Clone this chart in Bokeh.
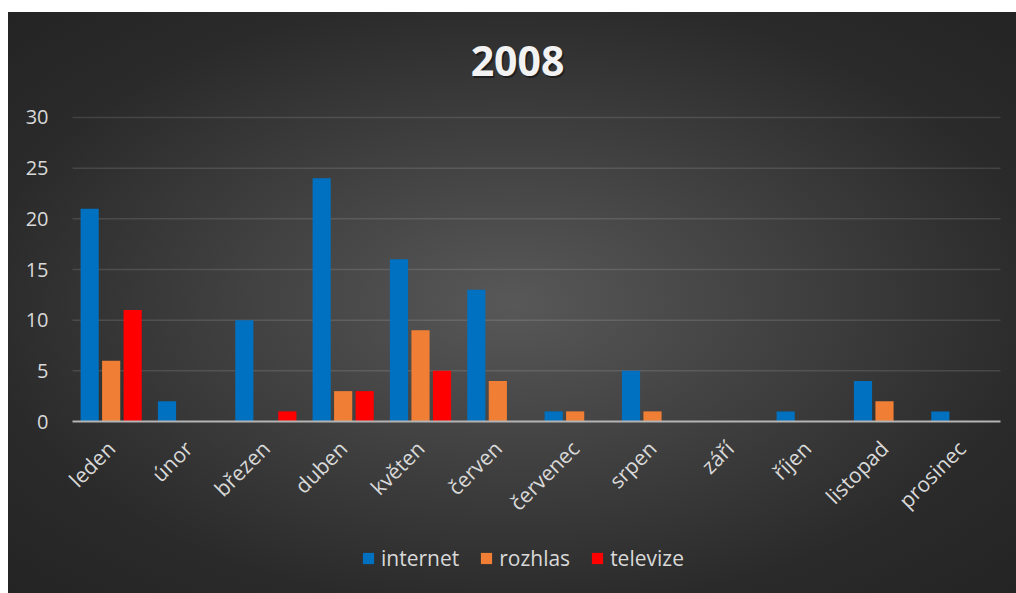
from bokeh.plotting import figure
from bokeh.models import ColumnDataSource, FactorRange, Range1d, Legend, LegendItem, Label, FixedTicker
from bokeh.transform import dodge
from bokeh.embed import file_html
from bokeh.resources import INLINE

months = ["leden", "únor", "březen", "duben", "květen", "červen",
          "červenec", "srpen", "září", "říjen", "listopad", "prosinec"]
internet = [21, 2, 10, 24, 16, 13, 1, 5, 0, 1, 4, 1]
rozhlas = [6, 0, 0, 3, 9, 4, 1, 1, 0, 0, 2, 0]
televize = [11, 0, 1, 3, 5, 0, 0, 0, 0, 0, 0, 0]
y_ticks = [0, 5, 10, 15, 20, 25, 30]
title_text = "2008"

FONT = "Open Sans"
LABEL_COLOR = "#d9d9d9"

src = ColumnDataSource(dict(m=months, internet=internet, rozhlas=rozhlas, televize=televize))

# frame covers the full height; value axis 0..30 occupies its middle part.
# a little horizontal padding keeps the rotated first label from being clipped
xr = FactorRange(*months, range_padding=0.194, range_padding_units="absolute")
p = figure(x_range=xr, y_range=Range1d(-16.97, 40.36),
           width=1008, height=581, output_backend="svg", toolbar_location=None,
           min_border_left=49, min_border_right=1, min_border_top=0, min_border_bottom=0)
p.margin = (12, 0, 0, 8)
p.styles = {"background": "radial-gradient(ellipse at 50% 50%, #585858 0%, #2a2a2a 75%, #242424 100%)"}
p.background_fill_alpha = 0
p.border_fill_alpha = 0
p.outline_line_color = None

n = len(months)
# horizontal gridlines spanning the category area only
grid_y = y_ticks[1:]
p.segment(x0=[0] * len(grid_y), x1=[n] * len(grid_y), y0=grid_y, y1=grid_y,
          line_color="#ffffff", line_alpha=0.12, line_width=1.5)

w = 0.235
r1 = p.vbar(x=dodge("m", -0.278, range=p.x_range), top="internet", width=w, source=src,
            fill_color="#0070C0", line_color=None)
r2 = p.vbar(x=dodge("m", 0.0, range=p.x_range), top="rozhlas", width=w, source=src,
            fill_color="#F07F35", line_color=None)
r3 = p.vbar(x=dodge("m", 0.278, range=p.x_range), top="televize", width=w, source=src,
            fill_color="#FF0000", line_color=None)

# category axis line at zero
p.segment(x0=[0], x1=[n], y0=[0], y1=[0], line_color="#b4b4b4", line_width=2)

# axes
p.yaxis.ticker = FixedTicker(ticks=y_ticks)
p.yaxis.axis_line_color = None
p.yaxis.major_tick_line_color = None
p.yaxis.minor_tick_line_color = None
p.yaxis.major_label_standoff = 3
p.yaxis.major_label_text_color = LABEL_COLOR
p.yaxis.major_label_text_font = FONT
p.yaxis.major_label_text_font_size = "20px"

p.xaxis.fixed_location = 0
p.xaxis.axis_line_color = None
p.xaxis.major_tick_line_color = None
p.xaxis.minor_tick_line_color = None
p.xaxis.major_label_orientation = 0.785398
p.xaxis.major_label_standoff = 17
p.xaxis.major_label_text_color = LABEL_COLOR
p.xaxis.major_label_text_font = FONT
p.xaxis.major_label_text_font_size = "21px"

p.xgrid.grid_line_color = None
p.ygrid.grid_line_color = None

# title with shadow
tx, ty = 5.755, 35.62
shadow = Label(x=tx, y=ty, x_offset=1.5, y_offset=-2, text=title_text, text_align="center",
               text_baseline="middle", text_font=FONT, text_font_size="41px",
               text_font_style="bold", text_color="#000000", text_alpha=0.45)
title = Label(x=tx, y=ty, text=title_text, text_align="center", text_baseline="middle",
              text_font=FONT, text_font_size="41px", text_font_style="bold", text_color="#f2f2f2")
p.add_layout(shadow)
p.add_layout(title)

legend = Legend(items=[LegendItem(label="internet", renderers=[r1]),
                       LegendItem(label="rozhlas", renderers=[r2]),
                       LegendItem(label="televize", renderers=[r3])],
                orientation="horizontal", location=(304, 21),
                glyph_width=14, glyph_height=14, label_standoff=6, spacing=20,
                padding=0, margin=0, background_fill_alpha=0, border_line_color=None,
                label_text_color=LABEL_COLOR, label_text_font=FONT, label_text_font_size="21px")
p.add_layout(legend, "center")

open("out.html", "w").write(file_html(p, INLINE))
